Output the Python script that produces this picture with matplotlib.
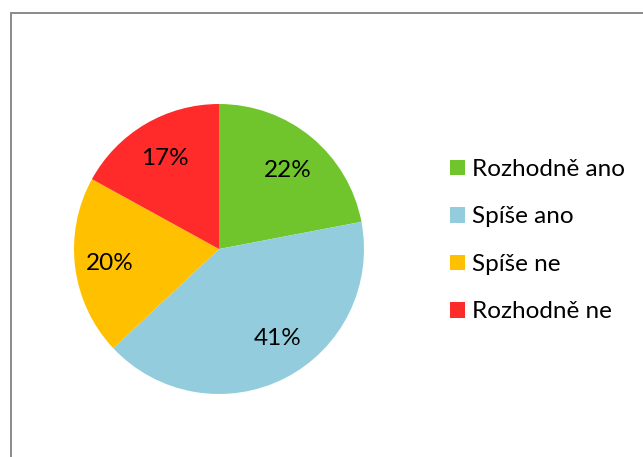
import matplotlib.pyplot as plt
from matplotlib.patches import Patch, Rectangle

# data
categories = ["Rozhodně ano", "Spíše ano", "Spíše ne", "Rozhodně ne"]
shares = [22, 41, 20, 17]
colors = ["#70C42C", "#93CDDD", "#FFC000", "#FF2A2A"]

W, H = 643, 457
fig = plt.figure(figsize=(W / 100, H / 100), dpi=100)
plt.rcParams["font.family"] = ["Lato", "DejaVu Sans"]

# chart frame (cut off at right and bottom in the reference)
fig.patches.append(Rectangle((11 / W, -0.1), 1.2, (H - 13) / H + 0.1,
                             transform=fig.transFigure, fill=False,
                             edgecolor="#8a8a8a", linewidth=1.4))

# pie: centre (219, 249) px, radius 145 px
cx, cy, r = 219, 249, 145
ax = fig.add_axes([(cx - r) / W, (H - cy - r) / H, 2 * r / W, 2 * r / H])
wedges, _, autotexts = ax.pie(
    shares, colors=colors, startangle=90, counterclock=False,
    radius=1, autopct="%d%%", pctdistance=0.74,
    wedgeprops=dict(linewidth=0),
    textprops=dict(fontsize=17.5, color="black"),
)
# small nudges so the labels sit where Excel put them
nudges = [(0.0, -0.03), (0.07, 0.04), (-0.02, -0.01), (0.0, -0.01)]
for t, (dx, dy) in zip(autotexts, nudges):
    x, y = t.get_position()
    t.set_position((x + dx, y + dy))

ax.set_xlim(-1, 1)
ax.set_ylim(-1, 1)
ax.set_aspect("equal")
ax.axis("off")

handles = [Patch(facecolor=c, edgecolor="none") for c in colors]
fig.legend(handles, categories, loc="upper left",
           bbox_to_anchor=(450 / W, 1 - 159 / H),
           frameon=False, fontsize=17.5, handlelength=0.62,
           handleheight=0.62, handletextpad=0.28, labelspacing=1.09,
           borderpad=0, borderaxespad=0)

fig.savefig("out.png", dpi=100)
